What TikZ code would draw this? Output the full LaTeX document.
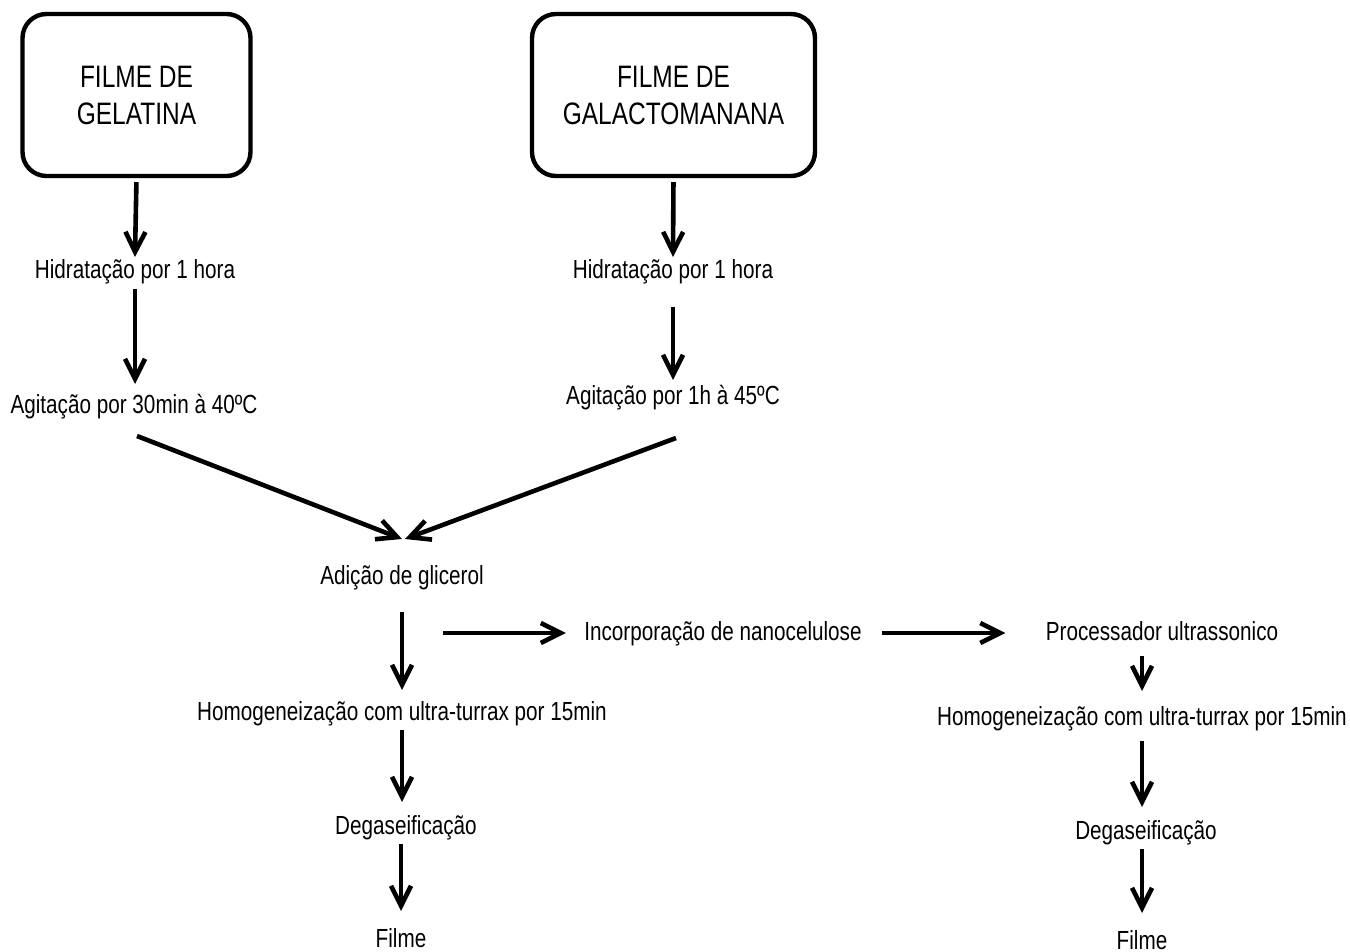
\documentclass[tikz,border=0pt]{standalone}
\usepackage{fontspec}
\setmainfont[FakeStretch=0.79]{Liberation Sans}
\usetikzlibrary{arrows.meta, positioning}
\tikzset{>={Straight Barb[length=10pt,width=10pt]}}
\tikzset{
  filmbox/.style={rectangle, rounded corners=12pt, draw=black, line width=2.2pt, minimum height=81pt, align=center, font=\fontsize{15.5}{18.5}\selectfont},
  stage/.style={rectangle, inner sep=2pt, text height=9.8pt, text depth=2.8pt, font=\fontsize{13.1}{15}\selectfont},
  arrow/.style={->, line width=2.3pt}
}

\begin{document}
\begin{tikzpicture}[x=0.5pt, y=-0.5pt]
\useasboundingbox (0,0) rectangle (1350,952);

% Starting films
\node[filmbox, minimum width=114pt] (gel) at (136.5,95) {FILME DE\\GELATINA};
\node[filmbox, minimum width=141.5pt] (gal) at (673.5,95) {FILME DE\\GALACTOMANANA};

% Gelatin branch
\node[stage] (hid1) at (135,272) {Hidratação por 1 hora};
\node[stage] (agit1) at (134,407) {Agitação por 30min à 40ºC};

% Galactomannan branch
\node[stage] (hid2) at (673,272) {Hidratação por 1 hora};
\node[stage] (agit2) at (673,397) {Agitação por 1h à 45ºC};

% Common steps
\node[stage] (glic) at (402,577) {Adição de glicerol};
\node[stage] (hom1) at (402,713) {Homogeneização com ultra-turrax por 15min};
\node[stage] (deg1) at (406,827) {Degaseificação};
\node[stage] (film1) at (401,940) {Filme};

% Nanocellulose route
\coordinate (fork) at (443,633);
\node[stage] (incorp) at (723,633) {Incorporação de nanocelulose};
\node[stage] (proc) at (1162,633) {Processador ultrassonico};
\node[stage] (hom2) at (1142,718) {Homogeneização com ultra-turrax por 15min};
\node[stage] (deg2) at (1146,832) {Degaseificação};
\node[stage] (film2) at (1142,942) {Filme};

% Arrows
\draw[arrow, shorten <=2pt, shorten >=-1pt] (gel.south) -- (hid1.north);
\draw[arrow, shorten >=3pt] (hid1.south) -- (hid1.south |- agit1.north);
\draw[arrow, shorten <=2pt, shorten >=-1pt] (gal.south) -- (hid2.north);
\draw[arrow, shorten <=9pt] (hid2.south) -- (agit2.north);

\draw[arrow] ([shift={(3,12)}]agit1.south) -- ([shift={(0,-21)}]glic.north);
\draw[arrow] ([shift={(3,24)}]agit2.south) -- ([shift={(3,-21)}]glic.north);

\draw[arrow, shorten <=9pt, shorten >=3pt] (glic.south) -- (hom1.north);
\draw[arrow, shorten >=4pt] (hom1.south) -- (hom1.south |- deg1.north);
\draw[arrow, shorten >=6pt] (deg1.south -| film1.north) -- (film1.north);

\draw[arrow, shorten >=7pt] (fork) -- (incorp.west);
\draw[arrow, shorten <=8pt, shorten >=18pt] (incorp.east) -- (proc.west);

\draw[arrow, shorten <=3pt, shorten >=5pt] (proc.south -| hom2.north) -- (hom2.north);
\draw[arrow, shorten <=3pt, shorten >=4pt] (hom2.south) -- (hom2.south |- deg2.north);
\draw[arrow, shorten >=6pt] (deg2.south -| film2.north) -- (film2.north);

\end{tikzpicture}
\end{document}
